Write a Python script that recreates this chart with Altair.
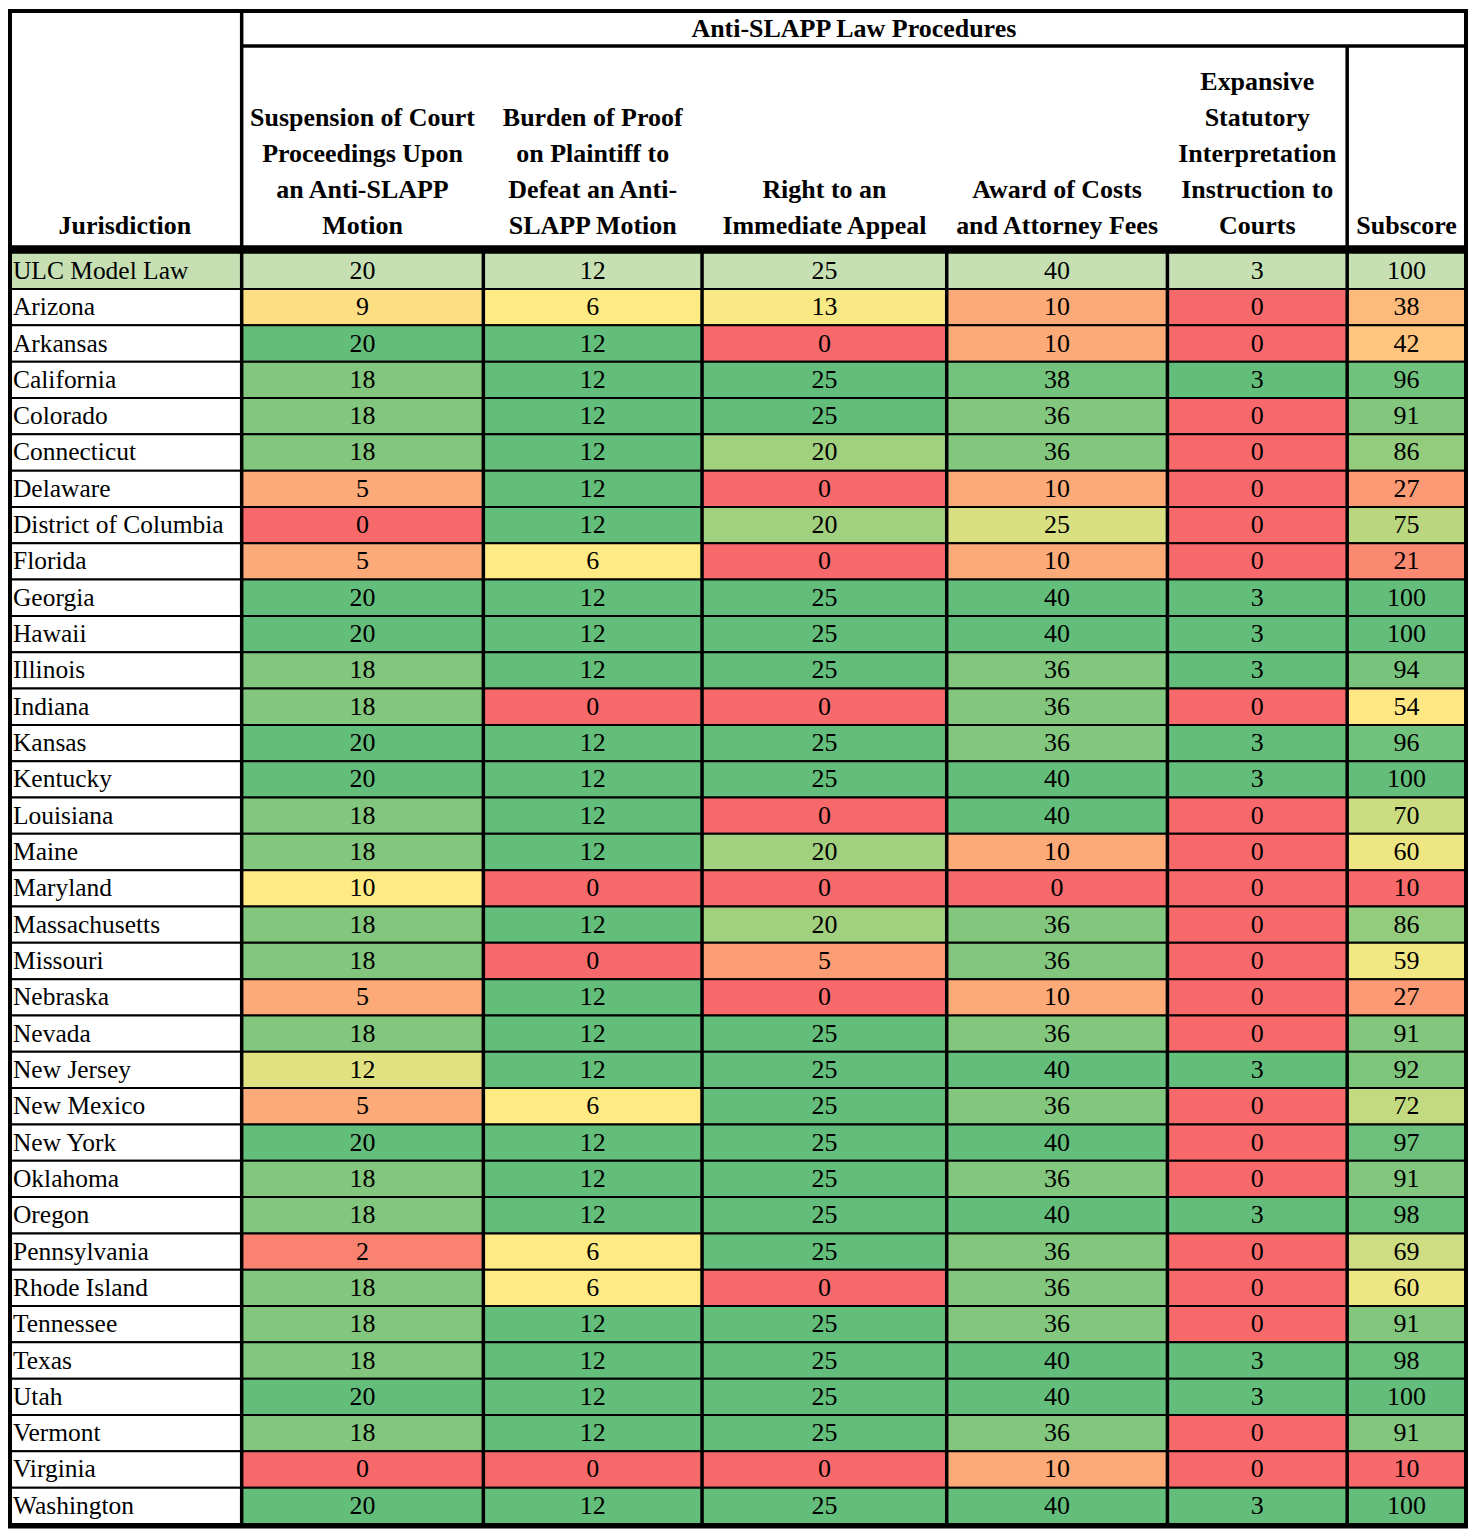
import altair as alt
import pandas as pd

# ---------------- data ----------------
JURISDICTIONS = [
    "ULC Model Law", "Arizona", "Arkansas", "California", "Colorado", "Connecticut",
    "Delaware", "District of Columbia", "Florida", "Georgia", "Hawaii", "Illinois",
    "Indiana", "Kansas", "Kentucky", "Louisiana", "Maine", "Maryland", "Massachusetts",
    "Missouri", "Nebraska", "Nevada", "New Jersey", "New Mexico", "New York", "Oklahoma",
    "Oregon", "Pennsylvania", "Rhode Island", "Tennessee", "Texas", "Utah", "Vermont",
    "Virginia", "Washington",
]
SUSPENSION = [20, 9, 20, 18, 18, 18, 5, 0, 5, 20, 20, 18, 18, 20, 20, 18, 18, 10, 18,
              18, 5, 18, 12, 5, 20, 18, 18, 2, 18, 18, 18, 20, 18, 0, 20]
BURDEN = [12, 6, 12, 12, 12, 12, 12, 12, 6, 12, 12, 12, 0, 12, 12, 12, 12, 0, 12,
          0, 12, 12, 12, 6, 12, 12, 12, 6, 6, 12, 12, 12, 12, 0, 12]
APPEAL = [25, 13, 0, 25, 25, 20, 0, 20, 0, 25, 25, 25, 0, 25, 25, 0, 20, 0, 20,
          5, 0, 25, 25, 25, 25, 25, 25, 25, 0, 25, 25, 25, 25, 0, 25]
FEES = [40, 10, 10, 38, 36, 36, 10, 25, 10, 40, 40, 36, 36, 36, 40, 40, 10, 0, 36,
        36, 10, 36, 40, 36, 40, 36, 40, 36, 36, 36, 40, 40, 36, 10, 40]
INTERPRETATION = [3, 0, 0, 3, 0, 0, 0, 0, 0, 3, 3, 3, 0, 3, 3, 0, 0, 0, 0,
                  0, 0, 0, 3, 0, 0, 0, 3, 0, 0, 0, 3, 3, 0, 0, 3]
SUBSCORE = [100, 38, 42, 96, 91, 86, 27, 75, 21, 100, 100, 94, 54, 96, 100, 70, 60, 10, 86,
            59, 27, 91, 92, 72, 97, 91, 98, 69, 60, 91, 98, 100, 91, 10, 100]

COLUMNS = [SUSPENSION, BURDEN, APPEAL, FEES, INTERPRETATION, SUBSCORE]
HEADER_LABELS = [
    ["Suspension of Court", "Proceedings Upon", "an Anti-SLAPP", "Motion"],
    ["Burden of Proof", "on Plaintiff to", "Defeat an Anti-", "SLAPP Motion"],
    ["Right to an", "Immediate Appeal"],
    ["Award of Costs", "and Attorney Fees"],
    ["Expansive", "Statutory", "Interpretation", "Instruction to", "Courts"],
    ["Subscore"],
]
FIRST_HEADER = ["Jurisdiction"]
SPAN_HEADER = "Anti-SLAPP Law Procedures"
MODEL_ROW = "ULC Model Law"

# ---------------- layout / style ----------------
COL_WIDTHS = [234, 242, 219, 245, 221, 180, 119]
W, H = 1463, 1523
BODY_TOP, BODY_BOTTOM = 244, 1517
SPAN_LINE_Y = 37
THICK_LINE_Y = 240
HEADER_BASELINE = 225
HEADER_LINE_H = 36
SPAN_TEXT_Y = 20
SERIF = "Liberation Serif"
MODEL_FILL = "#C6E0B4"
RED, YELLOW, GREEN = "#F8696B", "#FFEB84", "#63BE7B"

edges = [0]
for w in COL_WIDTHS:
    edges.append(edges[-1] + w)
TOTAL = edges[-1]

names_df = pd.DataFrame({"jur": JURISDICTIONS, "x0": edges[0], "x1": edges[1]})

rows = []
for k, col in enumerate(COLUMNS):
    for jur, v in zip(JURISDICTIONS, col):
        rows.append({"jur": jur, "col": k, "value": v,
                     "x0": edges[k + 1], "x1": edges[k + 2],
                     "xm": (edges[k + 1] + edges[k + 2]) / 2})
cells_df = pd.DataFrame(rows)

hdr_rows = []
for i, lines in enumerate([FIRST_HEADER] + HEADER_LABELS):
    n = len(lines)
    for j, line in enumerate(lines):
        hdr_rows.append({"line": line, "xm": (edges[i] + edges[i + 1]) / 2,
                         "from_bottom": n - 1 - j})
headers_df = pd.DataFrame(hdr_rows)
MAX_LINES = int(headers_df["from_bottom"].max()) + 1

span_df = pd.DataFrame({"label": [SPAN_HEADER], "xm": [(edges[1] + TOTAL) / 2]})
sep_df = pd.DataFrame({"x": edges[1:-1]})

xscale = alt.Scale(domain=[0, W], range=[0, W], zero=False, nice=False)


def X(f):
    return alt.X(f"{f}:Q", scale=xscale, axis=None)


Y = alt.Y("jur:N", sort=JURISDICTIONS,
          scale=alt.Scale(domain=JURISDICTIONS, range=[BODY_TOP, BODY_BOTTOM],
                          paddingInner=0, paddingOuter=0),
          axis=None)

is_model = f"datum.jur === '{MODEL_ROW}'"

name_rect = alt.Chart(names_df).mark_rect(stroke="black", strokeWidth=2).encode(
    x=X("x0"), x2="x1", y=Y,
    fill=alt.condition(is_model, alt.value(MODEL_FILL), alt.value("white")),
)

value_rect = (
    alt.Chart(cells_df)
    .transform_filter(f"datum.jur !== '{MODEL_ROW}'")
    .transform_joinaggregate(vmin="min(value)", vmax="max(value)", groupby=["col"])
    .transform_calculate(t="(datum.value - datum.vmin) / (datum.vmax - datum.vmin)")
    .mark_rect(stroke="black", strokeWidth=2)
    .encode(
        x=X("x0"), x2="x1", y=Y,
        fill=alt.Fill("t:Q", legend=None,
                      scale=alt.Scale(domain=[0, 0.5, 1], range=[RED, YELLOW, GREEN],
                                      interpolate="rgb")),
    )
)

model_rect = (
    alt.Chart(cells_df)
    .transform_filter(is_model)
    .mark_rect(stroke="black", strokeWidth=2, fill=MODEL_FILL)
    .encode(x=X("x0"), x2="x1", y=Y)
)

value_text = alt.Chart(cells_df).mark_text(
    font=SERIF, fontSize=26, baseline="middle", color="black"
).encode(x=X("xm"), y=Y, text=alt.Text("value:Q", format="d"))

name_text = alt.Chart(names_df).mark_text(
    font=SERIF, fontSize=25.5, baseline="middle", align="left", dx=5, color="black"
).encode(x=X("x0"), y=Y, text="jur:N")

header_layers = [
    alt.Chart(headers_df)
    .transform_filter(f"datum.from_bottom === {k}")
    .mark_text(font=SERIF, fontSize=26, fontWeight="bold", baseline="alphabetic",
               color="black")
    .encode(x=X("xm"), y=alt.value(HEADER_BASELINE - HEADER_LINE_H * k), text="line:N")
    for k in range(MAX_LINES)
]

span_text = alt.Chart(span_df).mark_text(
    font=SERIF, fontSize=26, fontWeight="bold", baseline="middle", color="black"
).encode(x=X("xm"), y=alt.value(SPAN_TEXT_Y), text="label:N")

col_seps = alt.Chart(sep_df).mark_rule(color="black", strokeWidth=3.5).encode(
    x=X("x"), y=alt.value(BODY_TOP), y2=alt.value(BODY_BOTTOM)
)


def rule(xa, xb, ya, yb, sw):
    d = pd.DataFrame({"x": [xa], "x2": [xb]})
    return alt.Chart(d).mark_rule(color="black", strokeWidth=sw).encode(
        x=X("x"), x2="x2", y=alt.value(ya), y2=alt.value(yb)
    )


rules = [
    rule(edges[1], edges[1], 0, BODY_TOP, 3.5),
    rule(edges[-2], edges[-2], SPAN_LINE_Y, BODY_TOP, 3.5),
    rule(edges[1], TOTAL, SPAN_LINE_Y, SPAN_LINE_Y, 3.5),
    rule(0, TOTAL, THICK_LINE_Y, THICK_LINE_Y, 7),
]

outer = alt.Chart(pd.DataFrame({"x": [2], "x2": [TOTAL]})).mark_rect(
    filled=False, stroke="black", strokeWidth=4
).encode(x=X("x"), x2="x2", y=alt.value(2), y2=alt.value(BODY_BOTTOM + 2.5))

chart = (
    alt.layer(name_rect, value_rect, model_rect, value_text, name_text,
              *header_layers, span_text, col_seps, *rules, outer)
    .properties(width=W, height=H, autosize=alt.AutoSizeParams(type="none"),
                padding=0, background="white")
    .configure_view(strokeWidth=0)
)

chart.save("out.html", embed_options={"renderer": "svg", "actions": False})
